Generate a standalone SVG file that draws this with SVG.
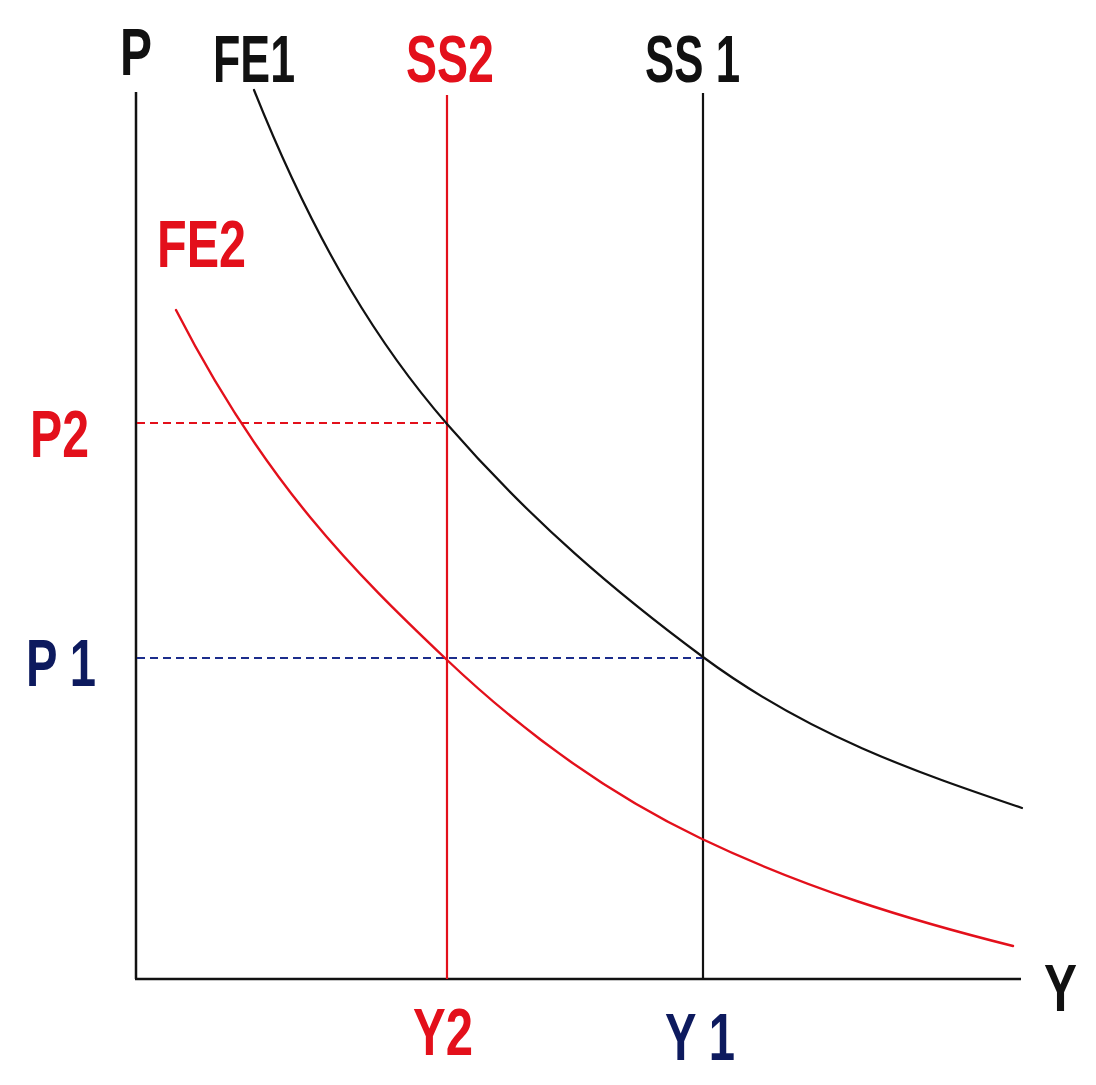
<svg xmlns="http://www.w3.org/2000/svg" width="1096" height="1085" viewBox="0 0 1096 1085">
<style>
  .lbl { font-family: "Liberation Sans", Arial, sans-serif; font-weight: bold; font-size: 66px; }
  .blk { fill: #111111; }
  .red { fill: #e3101b; }
  .navy { fill: #0d1a5e; }
  .axis { stroke: #111111; stroke-width: 2.5; fill: none; }
  .curve-k { stroke: #111111; stroke-width: 2.2; fill: none; stroke-linecap: round; }
  .curve-r { stroke: #e3101b; stroke-width: 2.4; fill: none; stroke-linecap: round; }
  .vline-k { stroke: #111111; stroke-width: 2.2; }
  .vline-r { stroke: #e3101b; stroke-width: 2.2; }
  .dash-r { stroke: #e3101b; stroke-width: 2.2; stroke-dasharray: 8 5; }
  .dash-b { stroke: #1c2d8c; stroke-width: 2.2; stroke-dasharray: 8 5; }
</style>
<rect width="1096" height="1085" fill="#ffffff"/>
<g id="axes">
  <line class="axis" x1="136" y1="92" x2="136" y2="979"/>
  <line class="axis" x1="135" y1="979" x2="1021" y2="979"/>
</g>
<g id="connectors">
  <line id="ss2" class="vline-r" x1="447" y1="95" x2="447" y2="979"/>
  <line id="ss1" class="vline-k" x1="703" y1="93" x2="703" y2="979"/>
  <line id="p2-guide" class="dash-r" x1="137" y1="423" x2="447" y2="423"/>
  <line id="p1-guide" class="dash-b" x1="137" y1="658" x2="703" y2="658"/>
  <path id="fe1" class="curve-k" d="M254,90 C318.3,250.8 382.7,350 447,424 C532.3,522.2 617.7,593.9 703,657 C809.3,735.7 915.7,771.9 1022,808"/>
  <path id="fe2" class="curve-r" d="M176,310 C266,485.5 356,573.5 446,659 C530.7,739.4 615.3,797.4 700,838 C804.3,888.1 908.7,919.9 1013,946"/>
</g>
<g id="labels">
  <g id="label-P"><text class="lbl blk" x="120" y="75" textLength="32" lengthAdjust="spacingAndGlyphs">P</text></g>
  <g id="label-FE1"><text class="lbl blk" x="213" y="82" textLength="82" lengthAdjust="spacingAndGlyphs">FE1</text></g>
  <g id="label-SS2"><text class="lbl red" x="406" y="82" textLength="88" lengthAdjust="spacingAndGlyphs">SS2</text></g>
  <g id="label-SS1"><text class="lbl blk" x="645" y="82" textLength="95" lengthAdjust="spacingAndGlyphs">SS 1</text></g>
  <g id="label-FE2"><text class="lbl red" x="157" y="267" textLength="89" lengthAdjust="spacingAndGlyphs">FE2</text></g>
  <g id="label-P2"><text class="lbl red" x="30" y="457" textLength="59" lengthAdjust="spacingAndGlyphs">P2</text></g>
  <g id="label-P1"><text class="lbl navy" x="26" y="686" textLength="70" lengthAdjust="spacingAndGlyphs">P 1</text></g>
  <g id="label-Y"><text class="lbl blk" x="1044" y="1011" textLength="33" lengthAdjust="spacingAndGlyphs">Y</text></g>
  <g id="label-Y2"><text class="lbl red" x="413" y="1055" textLength="60" lengthAdjust="spacingAndGlyphs">Y2</text></g>
  <g id="label-Y1"><text class="lbl navy" x="665" y="1060" textLength="70" lengthAdjust="spacingAndGlyphs">Y 1</text></g>
</g>
</svg>
